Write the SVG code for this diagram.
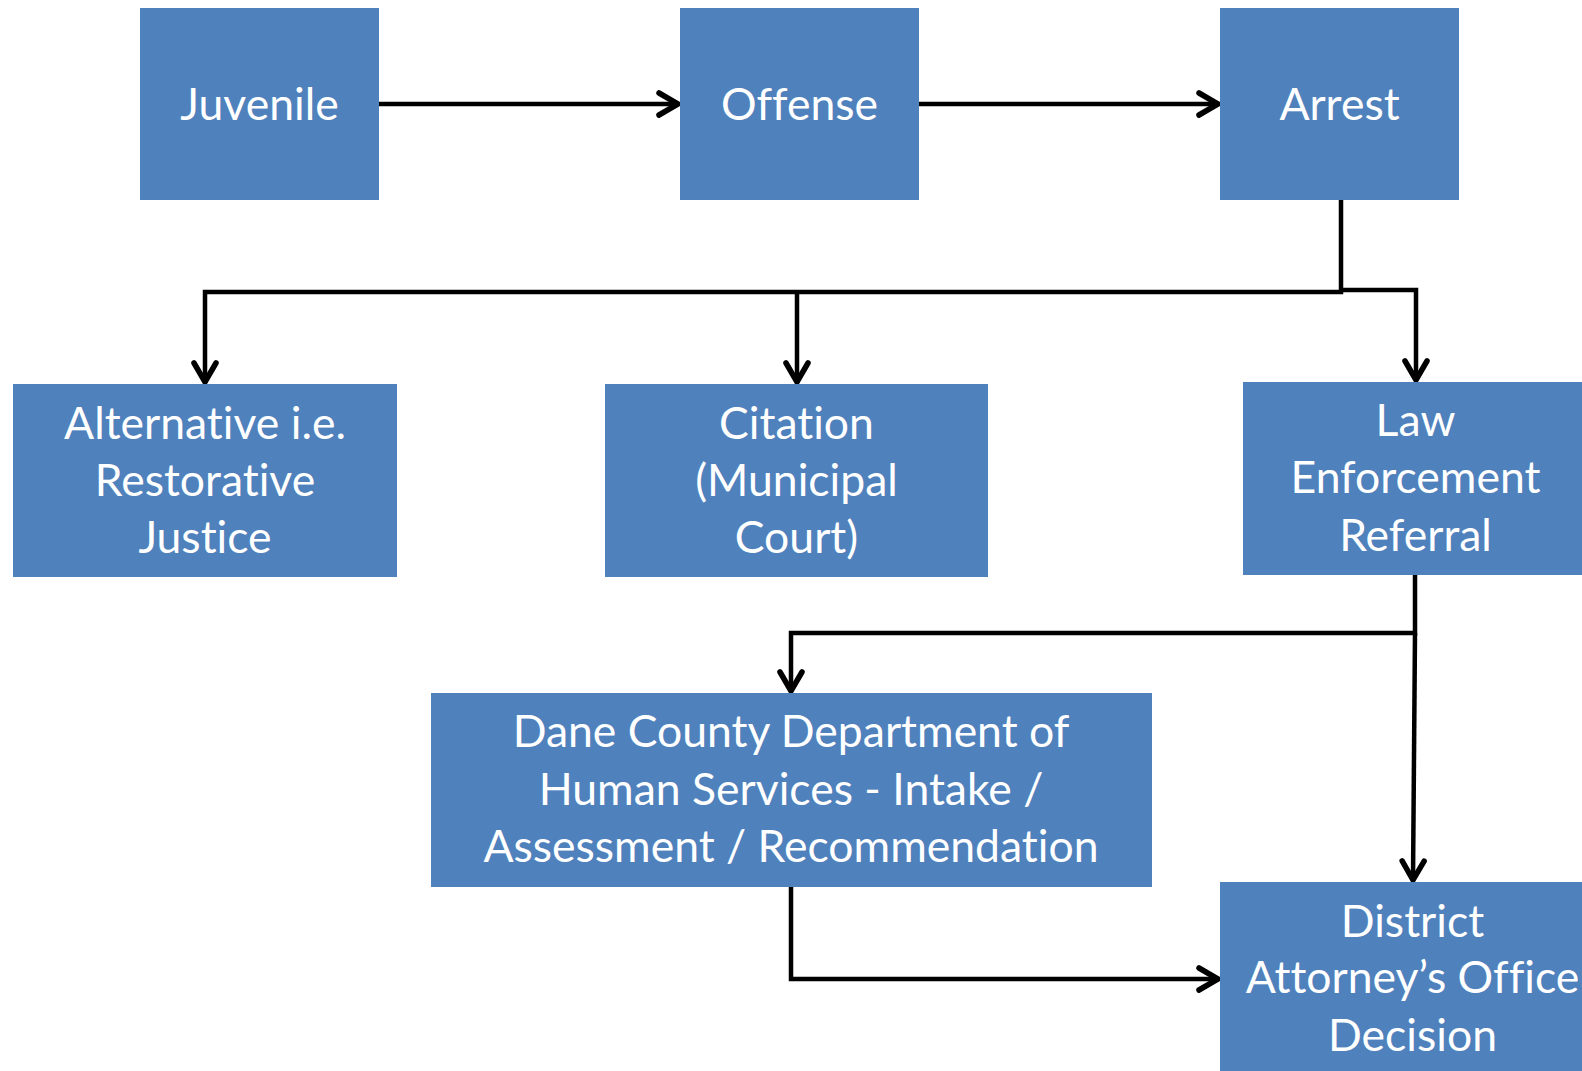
<svg xmlns="http://www.w3.org/2000/svg" width="1582" height="1071" viewBox="0 0 1582 1071">
<defs>
<style>
.box{fill:#4F81BD;}
.lbl{fill:#FFFFFF;font-family:Lato,"Open Sans","Liberation Sans",sans-serif;font-size:44.5px;text-anchor:middle;font-variant-ligatures:none;font-feature-settings:"liga" 0;}
.con{fill:none;stroke:#000;stroke-width:4.5;stroke-linejoin:miter;marker-end:url(#arr);}
</style>
<marker id="arr" markerUnits="userSpaceOnUse" markerWidth="40" markerHeight="40" viewBox="-30 -20 40 40" refX="0" refY="0" orient="auto" overflow="visible">
<path d="M-19,-11 L0,0 L-19,11" fill="none" stroke="#000" stroke-width="5.5" stroke-linecap="round" stroke-linejoin="miter"/>
</marker>
</defs>
<rect width="1582" height="1071" fill="#FFFFFF"/>
<g id="connectors">
<path class="con" d="M379,104 H678"/>
<path class="con" d="M919,104 H1218"/>
<path class="con" d="M1341,200 V292 H205 V382"/>
<path class="con" d="M797,292 V382"/>
<path class="con" d="M1341,290 H1416 V380"/>
<path class="con" d="M1415,575 V633 H791 V691"/>
<path class="con" d="M1415,633 L1413,880"/>
<path class="con" d="M791,887 V979 H1218"/>
</g>
<g id="juvenile"><rect class="box" x="140" y="8" width="239" height="192"/><text class="lbl" x="259.5" y="120">Juvenile</text></g>
<g id="offense"><rect class="box" x="680" y="8" width="239" height="192"/><text class="lbl" x="799.5" y="120">Offense</text></g>
<g id="arrest"><rect class="box" x="1220" y="8" width="239" height="192"/><text class="lbl" x="1339.5" y="120">Arrest</text></g>
<g id="alternative"><rect class="box" x="13" y="384" width="384" height="193"/><text class="lbl" x="205" y="439">Alternative i.e.</text><text class="lbl" x="205" y="496">Restorative</text><text class="lbl" x="205" y="553">Justice</text></g>
<g id="citation"><rect class="box" x="605" y="384" width="383" height="193"/><text class="lbl" x="796.5" y="439">Citation</text><text class="lbl" x="796.5" y="496">(Municipal</text><text class="lbl" x="796.5" y="553">Court)</text></g>
<g id="law"><rect class="box" x="1243" y="382" width="345" height="193"/><text class="lbl" x="1415.5" y="436">Law</text><text class="lbl" x="1415.5" y="493">Enforcement</text><text class="lbl" x="1415.5" y="551">Referral</text></g>
<g id="dane"><rect class="box" x="431" y="693" width="721" height="194"/><text class="lbl" x="791" y="747">Dane County Department of</text><text class="lbl" x="791" y="805">Human Services - Intake /</text><text class="lbl" x="791" y="862">Assessment / Recommendation</text></g>
<g id="district"><rect class="box" x="1220" y="882" width="385" height="195"/><text class="lbl" x="1412.5" y="937">District</text><text class="lbl" x="1412.5" y="993">Attorney’s Office</text><text class="lbl" x="1412.5" y="1051">Decision</text></g>
</svg>
